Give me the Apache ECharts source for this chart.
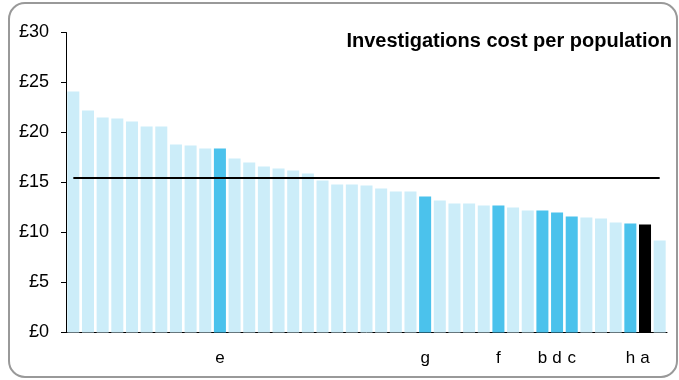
<!DOCTYPE html>
<html>
<head>
<meta charset="utf-8">
<script src="https://cdn.jsdelivr.net/npm/echarts@6/dist/echarts.min.js"></script>
<style>html,body{margin:0;padding:0;background:#fff}#c{width:679px;height:380px}</style>
</head>
<body>
<div id="c"></div>
<script>
const title = 'Investigations cost per population';
const categories = ['','','','','','','','','','','e','','','','','','','','','','','','','','g','','','','','f','','','b','d','c','','','','h','a',''];
const values = [24.1,22.2,21.5,21.4,21.1,20.6,20.6,18.8,18.7,18.4,18.4,17.4,17.0,16.6,16.4,16.2,15.9,15.2,14.8,14.8,14.7,14.4,14.1,14.1,13.6,13.2,12.9,12.9,12.7,12.7,12.5,12.2,12.2,12.0,11.6,11.5,11.4,11.0,10.9,10.8,9.2];
const highlighted = ['e','g','f','b','d','c','h'];
const selected = ['a'];
const average = 15.45;
const yTicks = [0,5,10,15,20,25,30];

const LIGHT = '#CCEDF9', MID = '#4BC2EC', DARK = '#000000';
const FONT = 'Liberation Sans, Arial, sans-serif';
const chart = echarts.init(document.getElementById('c'), null, {renderer:'canvas'});
chart.setOption({
  animation:false,
  backgroundColor:'#fff',
  textStyle:{fontFamily:FONT},
  title:{text:title,right:7,top:31,padding:0,textStyle:{fontSize:20,fontWeight:'bold',color:'#000',fontFamily:FONT}},
  graphic:[{type:'rect',shape:{x:9,y:3,width:668,height:374,r:16},style:{fill:'none',stroke:'#999',lineWidth:2},z:-1}],
  grid:{left:66,right:12,top:32.5,bottom:47.5},
  xAxis:{type:'category',data:categories,
    axisLine:{lineStyle:{color:'#000',width:1}},axisTick:{show:false},
    axisLabel:{interval:0,margin:17,fontSize:17,color:'#000'}},
  yAxis:{type:'value',min:yTicks[0],max:yTicks[yTicks.length-1],interval:5,
    axisLine:{show:true,lineStyle:{color:'#000'}},axisTick:{show:true,length:5,lineStyle:{color:'#000'}},
    splitLine:{show:false},
    axisLabel:{formatter:'£{value}',fontSize:18,color:'#000',margin:17}},
  series:[{type:'bar',barCategoryGap:'18%',
    data:values.map((v,i)=>({value:v,itemStyle:{color:selected.includes(categories[i])?DARK:(highlighted.includes(categories[i])?MID:LIGHT)}})),
    markLine:{symbol:'none',silent:true,label:{show:false},lineStyle:{color:'#000',width:2,type:'solid'},
      data:[[{xAxis:0,yAxis:average},{xAxis:categories.length-1,yAxis:average}]]}
  }]
});
</script>
</body>
</html>
